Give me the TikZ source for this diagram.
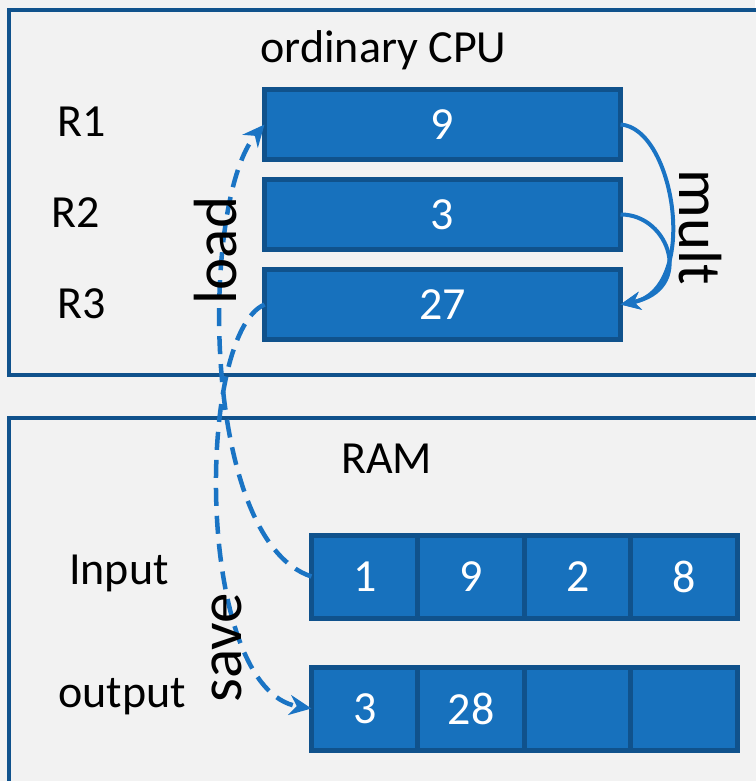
\documentclass[tikz,border=0pt]{standalone}
\usepackage{fontspec}
\setmainfont{Carlito}
\usetikzlibrary{arrows.meta,positioning}
\definecolor{panelgrey}{RGB}{242,242,242}
\definecolor{cellblue}{RGB}{23,113,189}
\definecolor{edgeblue}{RGB}{16,82,140}
\definecolor{arrowblue}{RGB}{26,116,196}

\begin{document}
\begin{tikzpicture}[x=1pt, y=-1pt,
  frame/.style={draw=edgeblue, line width=4.5pt, fill=panelgrey, anchor=north west, outer sep=0pt},
  reg/.style={draw=edgeblue, fill=cellblue, line width=5pt, outer sep=0pt, minimum width=356pt, minimum height=70pt, text=white, font=\fontsize{46}{55}\selectfont},
  cell/.style={draw=edgeblue, fill=cellblue, line width=5pt, outer sep=0pt, minimum width=106.5pt, minimum height=83pt, text=white, font=\fontsize{46}{55}\selectfont},
  lbl/.style={anchor=base, font=\fontsize{46}{55}\selectfont},
  big/.style={font=\fontsize{61}{73}\selectfont},
  flow/.style={draw=arrowblue, line width=4.5pt, dash pattern=on 18pt off 10pt, -{Stealth[length=22pt, width=20pt]}},
  mult/.style={draw=arrowblue, line width=4pt, -{Stealth[length=20pt, width=18pt]}}]
\fill[panelgrey] (0,0) rectangle (755,781);
\useasboundingbox (0,0) rectangle (755,781);
% the two panels
\node[frame, minimum width=775pt, minimum height=365pt] (cpu) at (9,10) {};
\node[frame, minimum width=775pt, minimum height=400pt] (ram) at (9,418) {};
% registers
\node[reg] (r1) at (442.5,124.5) {9};
\node[reg, below=20pt of r1] (r2) {3};
\node[reg, below=20pt of r2] (r3) {27};
% memory cells
\node[cell] (in1) at (364.7,576.5) {1};
\node[cell, right=0pt of in1] (in2) {9};
\node[cell, right=0pt of in2] (in3) {2};
\node[cell, right=0pt of in3] (in4) {8};
\node[cell, below=49pt of in1] (out1) {3};
\node[cell, right=0pt of out1] (out2) {28};
\node[cell, right=0pt of out2] (out3) {};
\node[cell, right=0pt of out3] (out4) {};
% data moves
\draw[flow] (in1.west) .. controls (200,540) and (200,200) .. (r1.west);
\draw[flow] (r3.west) .. controls (195,335) and (195,690) .. (out1.west);
\draw[mult] (r1.east) .. controls (675,128) and (700,290) .. (r3.east);
\draw[mult] (r2.east) .. controls (670,214) and (695,290) .. (r3.east);
% labels
\node[lbl] (cpulbl) at (383.5,63) {ordinary CPU};
\node[lbl] (ramlbl) at (386.5,473) {RAM};
\node[lbl] (r1lbl) at (81.5,136) {R1};
\node[lbl] (r2lbl) at (76,227) {R2};
\node[lbl] (r3lbl) at (82,318) {R3};
\node[lbl] (inlbl) at (119,584) {Input};
\node[lbl] (outlbl) at (122,707) {output};
\node[big, rotate=90] (loadlbl) at (215.5,250.5) {load};
\node[big, rotate=-90] (multlbl) at (700,227) {mult};
\node[big, rotate=90] (savelbl) at (227,648) {save};
\end{tikzpicture}
\end{document}
